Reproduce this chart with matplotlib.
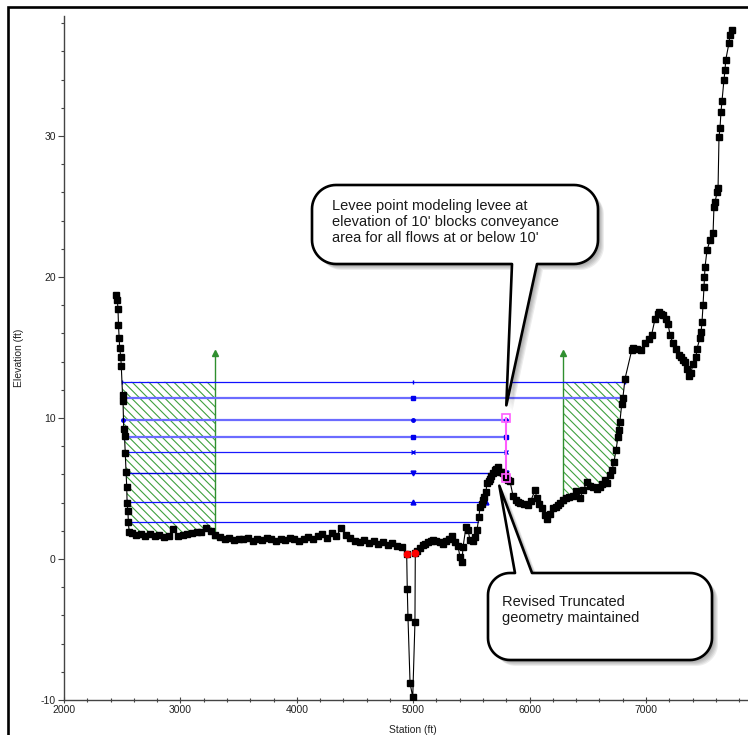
import numpy as np
import matplotlib
matplotlib.use('Agg')
import matplotlib.pyplot as plt
from matplotlib.patches import Polygon, Rectangle

plt.rcParams['font.family'] = ['Liberation Sans', 'DejaVu Sans']
plt.rcParams['hatch.linewidth'] = 0.8
plt.rcParams['axes.unicode_minus'] = False

W, H = 748, 735

# ground profile (station ft, elevation ft)
left_bank_sta = [2444, 2458, 2464, 2468, 2474, 2478, 2488, 2492, 2503, 2507, 2513, 2520,
                 2526, 2533, 2539, 2542, 2549, 2553, 2560]
left_bank_el = [18.7, 18.4, 17.7, 16.6, 15.7, 15.0, 14.3, 13.7, 11.6, 11.2, 9.2, 8.7,
                7.5, 6.2, 5.1, 4.0, 3.4, 2.6, 1.9]

floor_sta = [2580, 2620, 2660, 2700, 2740, 2780, 2820, 2860, 2900, 2940, 2980, 3020,
             3060, 3100, 3140, 3180, 3220, 3260, 3300, 3340, 3380, 3420, 3460, 3500,
             3540, 3580, 3620, 3660, 3700, 3740, 3780, 3820, 3860, 3900, 3940, 3980,
             4020, 4060, 4100, 4140, 4180, 4220, 4260, 4300, 4340, 4380, 4420, 4460,
             4500, 4540, 4580, 4620, 4660, 4700, 4740, 4780, 4820, 4860, 4900]
floor_el = [1.85, 1.7, 1.8, 1.65, 1.75, 1.6, 1.7, 1.55, 1.65, 2.15, 1.6, 1.7,
            1.75, 1.85, 1.9, 1.95, 2.2, 2.0, 1.7, 1.55, 1.45, 1.5, 1.35, 1.45,
            1.4, 1.5, 1.3, 1.45, 1.35, 1.5, 1.4, 1.3, 1.45, 1.35, 1.5, 1.4,
            1.3, 1.45, 1.55, 1.4, 1.6, 1.75, 1.5, 1.85, 1.6, 2.2, 1.7, 1.5,
            1.3, 1.2, 1.35, 1.15, 1.25, 1.1, 1.2, 1.0, 1.15, 0.95, 0.85]

channel_sta = [4944, 4949, 4955, 4973, 4996, 5015, 5018]
channel_el = [0.33, -2.1, -4.1, -8.8, -9.8, -4.5, 0.4]

right_sta = [5030, 5058, 5080, 5101, 5130, 5150, 5170, 5200, 5230, 5256, 5280, 5310,
             5333, 5359, 5385, 5402, 5419, 5428, 5454, 5471, 5488, 5510, 5531, 5548,
             5565, 5574, 5590, 5600, 5612, 5625, 5634, 5648, 5660, 5672, 5686, 5700,
             5715, 5729, 5746, 5760, 5772, 5785, 5797, 5815, 5832, 5857, 5880, 5900,
             5918, 5950, 5986, 6010, 6046, 6063, 6085, 6106, 6130, 6149, 6175, 6201,
             6225, 6244, 6265, 6287, 6310, 6340, 6373, 6400, 6433, 6460, 6493, 6520,
             6545, 6575, 6605, 6625, 6648, 6665, 6691, 6708, 6725, 6742, 6759, 6768,
             6775, 6792, 6801, 6820, 6877, 6888, 6920, 6954, 6991, 7028, 7048, 7077,
             7100, 7114, 7130, 7149, 7170, 7189, 7206, 7232, 7258, 7284, 7300, 7318,
             7335, 7355, 7369, 7385, 7404, 7429, 7438, 7464, 7473, 7481, 7490, 7498,
             7502, 7507, 7524, 7550, 7576, 7584, 7593, 7610, 7619, 7627, 7636, 7644,
             7653, 7670, 7679, 7685, 7713, 7722, 7739]
right_el = [0.6, 0.8, 1.0, 1.1, 1.2, 1.3, 1.35, 1.25, 1.2, 1.1, 1.3, 1.45,
            1.6, 1.2, 0.9, 0.15, -0.2, 0.85, 2.3, 2.05, 1.35, 1.3, 1.55, 2.05,
            3.0, 3.7, 3.9, 4.2, 4.4, 4.75, 5.4, 5.5, 5.7, 5.9, 6.1, 6.3,
            6.35, 6.5, 6.2, 6.15, 6.1, 5.95, 5.8, 5.6, 5.5, 4.5, 4.2, 4.05,
            4.0, 3.9, 3.8, 4.1, 4.9, 4.3, 3.9, 3.6, 3.1, 2.85, 3.2, 3.6,
            3.7, 3.8, 4.0, 4.2, 4.35, 4.4, 4.5, 4.8, 4.3, 4.9, 5.45, 5.2,
            5.1, 5.0, 5.1, 5.3, 5.6, 5.4, 5.95, 6.3, 6.9, 7.7, 8.65, 9.15,
            9.7, 11.0, 11.4, 12.8, 14.8, 15.0, 14.9, 14.8, 15.3, 15.6, 15.9, 17.0,
            17.4, 17.5, 17.4, 17.3, 17.0, 16.7, 15.9, 15.3, 14.9, 14.5, 14.3, 14.1,
            14.0, 13.5, 13.0, 13.2, 13.8, 14.3, 14.9, 15.7, 16.1, 16.8, 18.0, 19.3,
            20.0, 20.7, 21.9, 22.6, 23.1, 25.0, 25.3, 26.0, 26.3, 29.9, 30.6, 31.7,
            32.5, 34.0, 34.7, 35.4, 36.6, 37.2, 37.5]

# water surface profiles
ws_elev = [12.57, 11.44, 9.84, 8.67, 7.57, 6.08, 4.04, 2.60]
ws_start = [2497, 2505, 2511, 2521, 2527, 2534, 2541, 2552]
ws_end = [6817, 6800, 5800, 5800, 5800, 5800, 5625, 5555]
ws_mid = 5000

bank_sta = [4944, 5018]
levee_sta, levee_el = 5800, 10.0
ineff_left, ineff_right = 3300, 6290
ineff_el = 14.6

sta = np.array(left_bank_sta + floor_sta + channel_sta + right_sta, dtype=float)
elev = np.array(left_bank_el + floor_el + channel_el + right_el, dtype=float)

fig = plt.figure(figsize=(W / 100, H / 100), dpi=100)
ax = fig.add_axes([64 / W, 35 / H, 698.4 / W, 683.8 / H])
ax.set_facecolor('none')
ax.set_xlim(2000, 8000)
ax.set_ylim(-10, 38.5)

# ineffective flow areas
green = '#2f8f2f'
for x0, x1 in [(ws_start[0], ineff_left), (ineff_right, ws_end[0])]:
    m = (sta > x0) & (sta < x1)
    xs = np.concatenate([[x0], sta[m], [x1]])
    ax.fill_between(xs, np.interp(xs, sta, elev), ws_elev[0], facecolor='none',
                    edgecolor='#3fa03f', hatch='\\\\\\\\', linewidth=0, zorder=1)
for xp in (ineff_left, ineff_right):
    ax.plot([xp, xp], [np.interp(xp, sta, elev), ineff_el], color=green, lw=1,
            marker='^', ms=5, zorder=2)

# water surfaces
ws_color = ['#1010ff', '#6b6bff', '#6b6bff', '#6b6bff', '#1a1aff', '#0000dd', '#1010ff', '#1010ff']
ws_lw = [0.9, 1.6, 1.6, 1.6, 0.9, 1.0, 0.9, 0.9]
ws_marker = ['|', 's', 'o', 's', 'x', 'v', '^', '']
ws_ms = [3.5, 3.5, 2.5, 3.5, 3.5, 3.5, 3.5, 0]
for w, s, e, c, lw, mk, ms in zip(ws_elev, ws_start, ws_end, ws_color, ws_lw, ws_marker, ws_ms):
    ax.plot([s, e], [w, w], color=c, lw=lw, zorder=3)
    if mk:
        ax.plot([s, ws_mid, e], [w, w, w], ls='none', marker=mk, color='#0000ee',
                ms=ms, mew=1, zorder=3)

# levee
levee_base = np.interp(levee_sta, sta, elev)
ax.plot([levee_sta, levee_sta], [levee_base, levee_el], color='#ff5cff', lw=1.5,
        marker='s', ms=6, mfc='none', mec='#ff5cff', mew=1.2, zorder=5)

# ground
ax.plot(sta, elev, color='black', lw=0.8, marker='s', ms=3.9, zorder=4)
ax.plot(bank_sta, np.interp(bank_sta, sta, elev), ls='none', marker='o', color='red',
        ms=4.5, zorder=5)

# axes styling
for side in ('top', 'right'):
    ax.spines[side].set_visible(False)
for side in ('left', 'bottom'):
    ax.spines[side].set_color('#444444')
    ax.spines[side].set_linewidth(1)
ax.set_xticks(np.arange(2000, 7001, 1000))
ax.set_xticks(np.arange(2000, 8001, 200), minor=True)
ax.set_yticks(np.arange(-10, 31, 10))
ax.set_yticks(np.arange(-10, 39, 2), minor=True)
ax.tick_params(axis='both', which='major', labelsize=7.5, colors='#444444',
               labelcolor='#222222', width=0.8)
ax.tick_params(axis='x', which='major', direction='inout', length=5, pad=1)
ax.tick_params(axis='x', which='minor', direction='inout', length=3, width=0.8, colors='#444444')
ax.tick_params(axis='y', which='major', direction='out', length=4, pad=2)
ax.tick_params(axis='y', which='minor', direction='out', length=2.5, width=0.8, colors='#444444')
ax.set_xlabel('Station (ft)', fontsize=7.5, color='#222222')
ax.set_ylabel('Elevation (ft)', fontsize=7.5, color='#222222')
ax.xaxis.set_label_coords(0.5, -0.036)
ax.yaxis.set_label_coords(-0.057, 0.5)

# outer frame
fig.add_artist(Rectangle((8 / W, -0.1), 1.2, 1 - 7 / H + 0.1, transform=fig.transFigure,
                         fill=False, edgecolor='black', lw=1.9, zorder=0))


def to_fig(pts):
    pts = np.asarray(pts, dtype=float)
    return np.column_stack([pts[:, 0] / W, 1 - pts[:, 1] / H])


def px(x, y):
    d = ax.transData.transform((x, y))
    return d[0], H - d[1]


def bubble(x0, y0, x1, y1, r, base, tip, side):
    def arc(cx, cy, a0, a1):
        a = np.linspace(a0, a1, 16)
        return list(zip(cx + r * np.cos(a), cy + r * np.sin(a)))
    pts = arc(x0 + r, y0 + r, np.pi, 1.5 * np.pi)
    if side == 'top':
        pts += [(base[0], y0), tip, (base[1], y0)]
    pts += arc(x1 - r, y0 + r, -0.5 * np.pi, 0)
    pts += arc(x1 - r, y1 - r, 0, 0.5 * np.pi)
    if side == 'bottom':
        pts += [(base[1], y1), tip, (base[0], y1)]
    pts += arc(x0 + r, y1 - r, 0.5 * np.pi, np.pi)
    pts = np.array(pts)
    for off in (2, 3, 4, 5, 6):
        fig.add_artist(Polygon(to_fig(pts + off), closed=True, facecolor='black',
                               edgecolor='none', alpha=0.07, transform=fig.transFigure,
                               zorder=9))
    fig.add_artist(Polygon(to_fig(pts), closed=True, facecolor='white', edgecolor='black',
                           lw=1.9, joinstyle='round', transform=fig.transFigure, zorder=10))


bubble(312, 185, 598, 264, 24, (512, 537), px(5800, 10.9), 'bottom')
fig.text(332 / W, 1 - 199 / H,
         "Levee point modeling levee at\nelevation of 10' blocks conveyance\n"
         "area for all flows at or below 10'",
         fontsize=10.5, color='#1a1a1a', va='top', ha='left', zorder=11)

bubble(488, 573, 712, 660, 22, (515, 532), px(5740, 5.2), 'top')
fig.text(502 / W, 1 - 595 / H, "Revised Truncated\ngeometry maintained",
         fontsize=10.5, color='#1a1a1a', va='top', ha='left', zorder=11)

fig.savefig('out.png', dpi=100)
